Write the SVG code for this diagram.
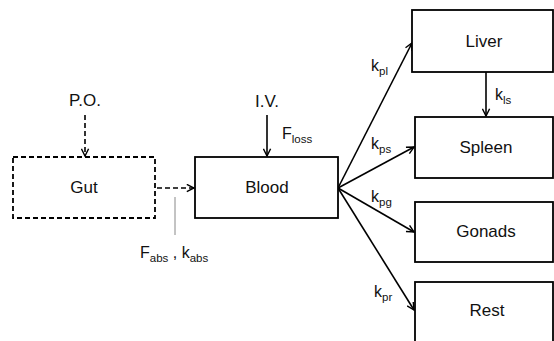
<svg xmlns="http://www.w3.org/2000/svg" width="554" height="341" viewBox="0 0 554 341">
<style>
text{font-family:"Liberation Sans",Arial,sans-serif;fill:#111;}
.lbl{font-size:17px;text-anchor:middle;}
.k{font-size:16px;}
.sub{font-size:11.5px;}
.box{fill:#fff;stroke:#000;stroke-width:1.8;}
.dash{stroke-dasharray:5,3;}
.edge{fill:none;stroke:#000;stroke-width:1.6;}
</style>
<defs>
<marker id="arr" viewBox="0 0 10 10" refX="9" refY="5" markerWidth="9" markerHeight="9" markerUnits="userSpaceOnUse" orient="auto">
<path d="M1,1 L9,5 L1,9" fill="none" stroke="#000" stroke-width="1.6"/>
</marker>
</defs>
<rect width="554" height="341" fill="#fff"/>
<g id="connectors">
<line class="edge dash" x1="85" y1="115" x2="85" y2="156" marker-end="url(#arr)"/>
<line class="edge" x1="267" y1="115" x2="267" y2="156" marker-end="url(#arr)"/>
<line class="edge dash" x1="157" y1="188" x2="194" y2="188" marker-end="url(#arr)"/>
<line x1="175" y1="197" x2="175" y2="235" stroke="#888" stroke-width="1"/>
<line class="edge" x1="338" y1="188" x2="412" y2="43" marker-end="url(#arr)"/>
<line class="edge" x1="338" y1="188" x2="414" y2="147" marker-end="url(#arr)"/>
<line class="edge" x1="338" y1="188" x2="414" y2="232" marker-end="url(#arr)"/>
<line class="edge" x1="338" y1="188" x2="414" y2="310" marker-end="url(#arr)"/>
<line class="edge" x1="486" y1="72" x2="486" y2="116" marker-end="url(#arr)"/>
<text x="85" y="106" class="lbl">P.O.</text>
<text x="267" y="107" class="lbl">I.V.</text>
<text x="282" y="139" class="k">F<tspan class="sub" dy="4">loss</tspan></text>
<text x="140" y="258" class="k">F<tspan class="sub" dy="4">abs</tspan><tspan dy="-4"> , k</tspan><tspan class="sub" dy="4">abs</tspan></text>
<text x="371" y="71" class="k">k<tspan class="sub" dy="4">pl</tspan></text>
<text x="371" y="149" class="k">k<tspan class="sub" dy="4">ps</tspan></text>
<text x="371" y="202" class="k">k<tspan class="sub" dy="4">pg</tspan></text>
<text x="374" y="297" class="k">k<tspan class="sub" dy="4">pr</tspan></text>
<text x="495" y="100" class="k">k<tspan class="sub" dy="4">ls</tspan></text>
</g>
<g id="gut">
<rect class="box dash" x="13" y="157" width="142" height="61"/>
<text x="84" y="193" class="lbl">Gut</text>
</g>
<g id="blood">
<rect class="box" x="195" y="157" width="143" height="61"/>
<text x="267" y="193" class="lbl">Blood</text>
</g>
<g id="liver">
<rect class="box" x="412" y="10" width="141" height="62"/>
<text x="484" y="47" class="lbl">Liver</text>
</g>
<g id="spleen">
<rect class="box" x="415" y="117" width="138" height="61"/>
<text x="486" y="153" class="lbl">Spleen</text>
</g>
<g id="gonads">
<rect class="box" x="415" y="202" width="138" height="60"/>
<text x="486" y="237" class="lbl">Gonads</text>
</g>
<g id="rest">
<rect class="box" x="415" y="282" width="138" height="70"/>
<text x="487" y="316" class="lbl">Rest</text>
</g>
</svg>
